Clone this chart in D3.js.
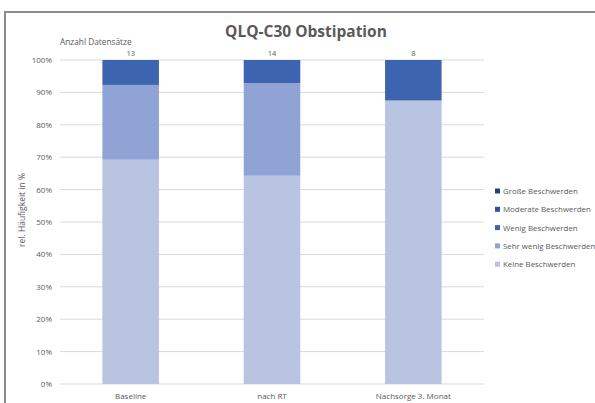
<!DOCTYPE html>
<html><head><meta charset="utf-8">
<script src="https://cdn.jsdelivr.net/npm/d3@7"></script>
<style>body{margin:0;background:#fff}svg{display:block;font-family:"Open Sans",sans-serif}</style>
</head><body><svg id="c" width="595" height="403"></svg>
<script>
const categories = ["Baseline", "nach RT", "Nachsorge 3. Monat"];
const seriesNames = ["Keine Beschwerden", "Sehr wenig Beschwerden", "Wenig Beschwerden", "Moderate Beschwerden", "Große Beschwerden"];
const keine = [9, 9, 7];
const sehrWenig = [3, 4, 0];
const wenig = [1, 1, 1];
const moderate = [0, 0, 0];
const grosse = [0, 0, 0];
const colors = ["#b9c3e2", "#8fa3d5", "#3d64ae", "#2f5297", "#25427c"];
const yTicks = [0, 0.1, 0.2, 0.3, 0.4, 0.5, 0.6, 0.7, 0.8, 0.9, 1.0];

const seriesVals = [keine, sehrWenig, wenig, moderate, grosse];
const totals = categories.map((c, i) => d3.sum(seriesVals, s => s[i]));
const rows = categories.map((c, i) => {
  const r = {cat: c};
  seriesNames.forEach((n, k) => r[n] = seriesVals[k][i] / totals[i]);
  return r;
});
const stack = d3.stack().keys(seriesNames)(rows);

const svg = d3.select("#c");
const W = 595, H = 403;
svg.append("path").attr("d", `M5,${H} L5,12 L${W},12`).attr("fill", "none").attr("stroke", "#8c8c8c").attr("stroke-width", 2);

const x = d3.scaleBand().domain(categories).range([60, 484]).paddingInner(0.6).paddingOuter(0.3);
const y = d3.scaleLinear().domain([0, 1]).range([384, 60]);

svg.append("g").selectAll("line").data(yTicks).join("line")
  .attr("x1", 60).attr("x2", 484).attr("y1", d => y(d)).attr("y2", d => y(d))
  .attr("stroke", "#d9d9d9").attr("stroke-width", 1);

const yAxis = d3.axisLeft(y).tickValues(yTicks).tickFormat(d3.format(".0%")).tickSize(0).tickPadding(0);
const ya = svg.append("g").attr("transform", "translate(52,0)").call(yAxis);
ya.select(".domain").remove();
ya.selectAll("text").attr("fill", "#595959").style("font-size", "8px").style("font-family", "Open Sans");

svg.append("g").selectAll("g").data(stack).join("g").attr("fill", (d, i) => colors[i])
  .selectAll("rect").data(d => d).join("rect")
  .attr("x", d => x(d.data.cat)).attr("width", x.bandwidth())
  .attr("y", d => y(d[1])).attr("height", d => y(d[0]) - y(d[1]));

const xAxis = d3.axisBottom(x).tickSize(0).tickPadding(0);
const xa = svg.append("g").attr("transform", "translate(0,393)").call(xAxis);
xa.select(".domain").remove();
xa.selectAll("text").attr("fill", "#595959").style("font-size", "8px").style("font-family", "Open Sans");

svg.append("g").selectAll("text").data(categories).join("text")
  .attr("x", d => x(d) + x.bandwidth() / 2).attr("y", 56).attr("text-anchor", "middle")
  .attr("fill", "#595959").style("font-size", "7.5px").text((d, i) => totals[i]);

svg.append("text").attr("x", 306).attr("y", 37).attr("text-anchor", "middle")
  .attr("fill", "#595959").style("font-size", "15.5px").style("font-weight", "bold").text("QLQ-C30 Obstipation");
svg.append("text").attr("x", 60).attr("y", 45).attr("fill", "#595959").style("font-size", "8.3px").text("Anzahl Datensätze");
svg.append("text").attr("transform", "translate(25,210) rotate(-90)").attr("text-anchor", "middle")
  .attr("fill", "#595959").style("font-size", "8.5px").text("rel. Häufigkeit in %");

const leg = svg.append("g").selectAll("g").data(seriesNames.map((n, i) => ({n, c: colors[i]})).reverse()).join("g")
  .attr("transform", (d, i) => `translate(495,${192 + i * 18.3})`);
leg.append("rect").attr("x", 0).attr("y", -3.5).attr("width", 5).attr("height", 5).attr("fill", d => d.c);
leg.append("text").attr("x", 8).attr("y", 2).attr("fill", "#595959").style("font-size", "7.9px").text(d => d.n);
</script></body></html>
